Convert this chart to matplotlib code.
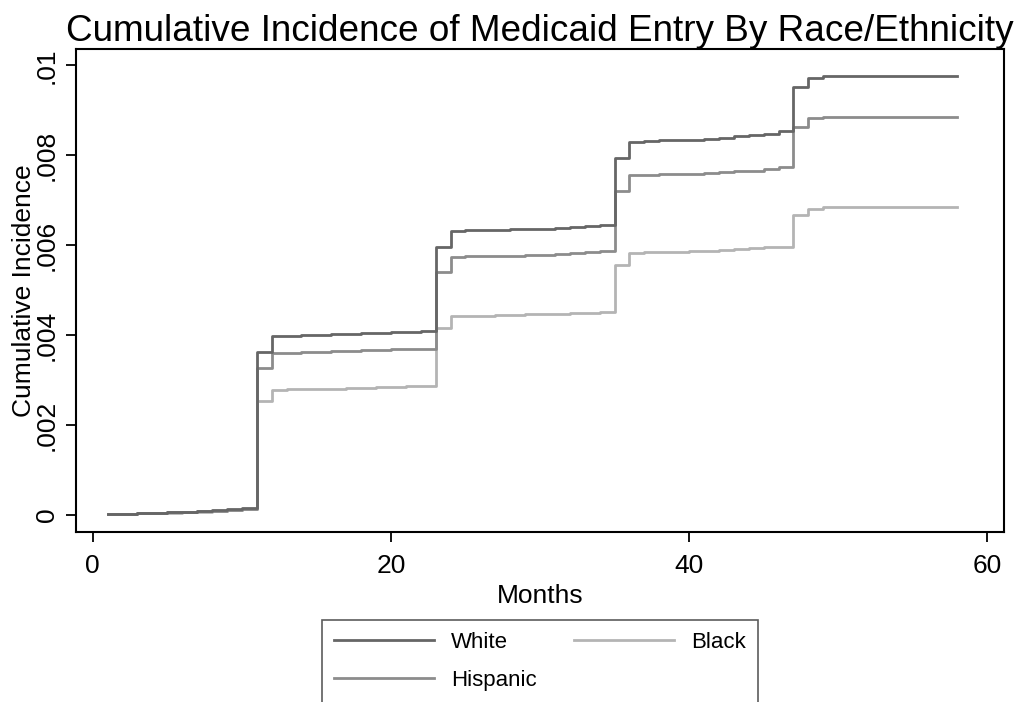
import numpy as np
import matplotlib
matplotlib.use("Agg")
import matplotlib.pyplot as plt

plt.rcParams['font.family'] = ['Liberation Sans', 'DejaVu Sans']

# months since start
months = np.arange(1, 59)

white = [0.00002, 0.00003, 0.00004, 0.00005, 0.00006, 0.00007, 0.00008, 0.00010, 0.00012, 0.00016,
         0.00362, 0.00398, 0.00399, 0.00400, 0.00401, 0.00402, 0.00403, 0.00404, 0.00405, 0.00406, 0.00407, 0.00409,
         0.00595, 0.00632, 0.00633, 0.00634, 0.00634, 0.00635, 0.00636, 0.00637, 0.00638, 0.00640, 0.00642, 0.00646,
         0.00795, 0.00830, 0.00832, 0.00833, 0.00834, 0.00835, 0.00836, 0.00839, 0.00842, 0.00845, 0.00848, 0.00854,
         0.00952, 0.00972, 0.00977, 0.00977, 0.00977, 0.00977, 0.00977, 0.00977, 0.00977, 0.00977, 0.00977, 0.00977]

hispanic = [0.00002, 0.00003, 0.00004, 0.00005, 0.00006, 0.00007, 0.00008, 0.00009, 0.00011, 0.00014,
            0.00327, 0.00360, 0.00361, 0.00362, 0.00363, 0.00364, 0.00365, 0.00366, 0.00367, 0.00368, 0.00369, 0.00370,
            0.00540, 0.00574, 0.00575, 0.00576, 0.00576, 0.00577, 0.00578, 0.00579, 0.00580, 0.00582, 0.00584, 0.00587,
            0.00721, 0.00756, 0.00757, 0.00758, 0.00758, 0.00759, 0.00760, 0.00762, 0.00764, 0.00766, 0.00769, 0.00774,
            0.00863, 0.00883, 0.00886, 0.00886, 0.00886, 0.00886, 0.00886, 0.00886, 0.00886, 0.00886, 0.00886, 0.00886]

black = [0.00002, 0.00003, 0.00004, 0.00004, 0.00005, 0.00006, 0.00007, 0.00008, 0.00010, 0.00012,
         0.00253, 0.00278, 0.00279, 0.00279, 0.00280, 0.00281, 0.00282, 0.00283, 0.00284, 0.00285, 0.00286, 0.00287,
         0.00416, 0.00442, 0.00443, 0.00443, 0.00444, 0.00445, 0.00446, 0.00447, 0.00448, 0.00449, 0.00450, 0.00452,
         0.00557, 0.00583, 0.00584, 0.00584, 0.00585, 0.00586, 0.00587, 0.00589, 0.00591, 0.00593, 0.00595, 0.00597,
         0.00667, 0.00681, 0.00686, 0.00686, 0.00686, 0.00686, 0.00686, 0.00686, 0.00686, 0.00686, 0.00686, 0.00686]

yticks = [0, 0.002, 0.004, 0.006, 0.008, 0.01]
ytick_labels = ['0', '.002', '.004', '.006', '.008', '.01']
xticks = [0, 20, 40, 60]

fig = plt.figure(figsize=(10.26, 7.02), dpi=100)
ax = fig.add_axes([76 / 1026, 1 - 531.5 / 702, 928 / 1026, 482.5 / 702])

lw = 2.0
l_black, = ax.plot(months, black, drawstyle='steps-post', color='#b4b4b4', lw=lw, label='Black')
l_hisp, = ax.plot(months, hispanic, drawstyle='steps-post', color='#8c8c8c', lw=lw, label='Hispanic')
l_white, = ax.plot(months, white, drawstyle='steps-post', color='#666666', lw=lw, label='White')

ax.set_xlim(-1.12, 61.12)
ax.set_ylim(-0.00037, 0.010365)
ax.set_xticks(xticks)
ax.set_yticks(yticks)
ax.set_yticklabels(ytick_labels, rotation=90, va='center')
ax.tick_params(axis='both', labelsize=19, length=7.5, width=1.3, direction='out')
ax.tick_params(axis='x', pad=9)
ax.tick_params(axis='y', pad=5)
for s in ax.spines.values():
    s.set_linewidth(1.5)

ax.set_title('Cumulative Incidence of Medicaid Entry By Race/Ethnicity', fontsize=26.6, pad=6)
ax.set_xlabel('Months', fontsize=19, labelpad=4)
ax.set_ylabel('Cumulative Incidence', fontsize=19, labelpad=-1)

leg = fig.legend([l_white, l_hisp, l_black], ['White', 'Hispanic', 'Black'],
                 ncol=2, loc='upper center', bbox_to_anchor=(540 / 1026, 1 - 620 / 702),
                 fontsize=16, handlelength=4.5, handletextpad=0.75, columnspacing=1.7,
                 labelspacing=0.75, fancybox=False, borderpad=0.55, borderaxespad=0)
leg.get_frame().set_edgecolor('#333333')
leg.get_frame().set_linewidth(1.2)

fig.savefig('out.png', dpi=100)
